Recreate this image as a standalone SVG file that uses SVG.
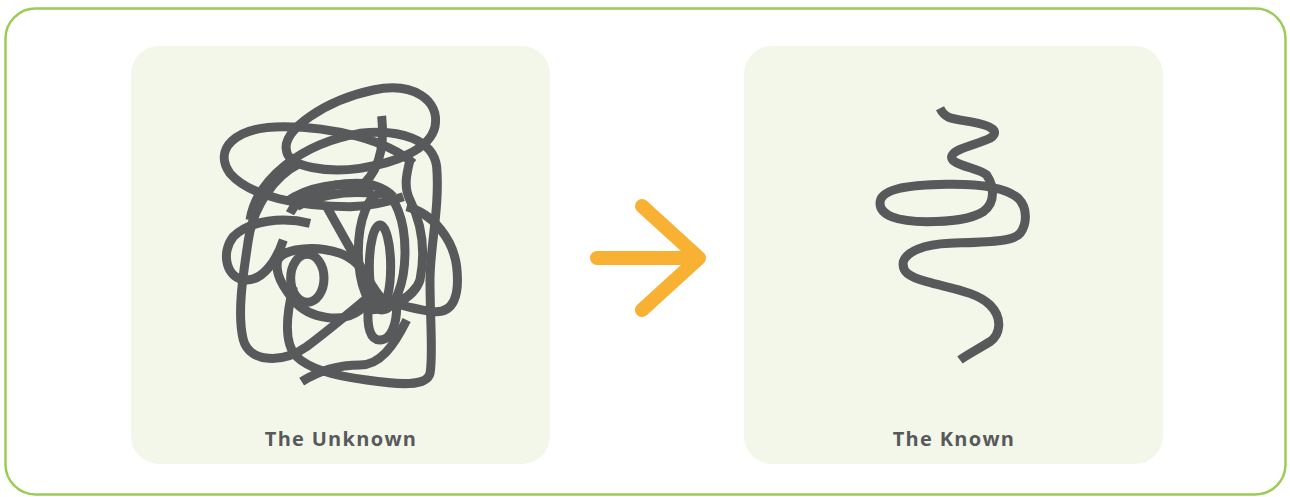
<svg xmlns="http://www.w3.org/2000/svg" width="1290" height="497" viewBox="0 0 1290 497">
<style>
.panel{fill:#f3f7ea}
.ink{fill:none;stroke:#58595b;stroke-width:27;stroke-linecap:butt;stroke-linejoin:round}
.lbl{font-family:"Open Sans","Liberation Sans",sans-serif;font-weight:700;font-size:20px;letter-spacing:1.3px;fill:#58595b;text-anchor:middle}
.arrow{fill:none;stroke:#f8b133;stroke-width:14;stroke-linecap:round;stroke-linejoin:round}
</style>
<rect x="0" y="0" width="1290" height="497" fill="#ffffff"/>
<rect id="frame" x="5.5" y="8.5" width="1280" height="486" rx="30" fill="#ffffff" stroke="#9ccc55" stroke-width="2.5"/>
<g id="unknown">
<rect class="panel" x="131" y="46" width="419" height="418" rx="28"/>
<g transform="translate(200,80) scale(0.33333)">
<path class="ink" d="M260 215 C240 150 380 60 520 30 C640 5 720 60 705 140 C690 210 580 250 480 265 C380 280 270 260 260 215 Z"/>
<path class="ink" d="M545 108 C555 200 540 280 470 330"/>
<path class="ink" d="M640 250 C560 180 400 140 250 140 C100 140 40 210 90 280 C150 350 300 380 450 380 C520 378 580 360 610 350"/>
<path class="ink" d="M150 420 C170 300 300 190 480 160 C600 145 700 180 710 260 C720 380 690 500 690 600 C690 720 700 830 690 880 C680 920 600 915 500 900 C420 890 330 870 290 830 C250 790 260 700 280 620"/>
<path class="ink" d="M300 250 C220 290 160 380 145 480 C130 580 110 700 130 780 C150 850 250 850 320 800 C400 740 470 680 530 630"/>
<path class="ink" d="M305 905 C360 870 420 855 480 855 C540 855 580 800 620 720"/>
<path class="ink" d="M620 380 C700 400 760 480 770 560 C780 650 760 700 700 695 C640 690 560 660 490 650"/>
<ellipse class="ink" cx="545" cy="515" rx="70" ry="175"/>
<ellipse class="ink" cx="540" cy="560" rx="32" ry="125"/>
<path class="ink" d="M505 680 C500 740 510 780 540 780 C575 780 590 730 590 680"/>
<path class="ink" d="M330 430 C250 410 150 420 100 470 C60 520 80 600 140 600 C190 600 230 540 250 480"/>
<ellipse class="ink" cx="322" cy="595" rx="50" ry="72"/>
<path class="ink" d="M230 560 C220 510 330 490 420 520 C500 550 530 640 480 690 C430 730 330 720 280 660 C240 610 210 560 250 500"/>
<path class="ink" d="M270 400 C300 340 380 310 470 310 C530 310 560 330 580 350"/>
<path class="ink" d="M260 365 C320 322 420 300 520 322"/>
<path class="ink" d="M290 380 C340 350 430 330 520 340"/>
<path class="ink" d="M380 380 C420 450 500 600 540 650 C580 680 620 660 650 620"/>
<path class="ink" d="M630 240 C620 280 610 320 630 360 C660 420 680 500 660 600 C640 660 560 690 500 690"/>
</g>
<text class="lbl" x="341" y="446">The Unknown</text>
</g>
<g id="connectors">
<path class="arrow" d="M597 258 H699 M642 206 L699 258 L642 310"/>
</g>
<g id="known">
<rect class="panel" x="744" y="46" width="419" height="418" rx="28"/>
<g transform="translate(850,95) scale(0.33333)">
<path class="ink" d="M270 40 C285 70 300 70 360 80 C430 92 450 110 420 130 C380 150 310 160 305 185 C300 210 390 220 410 240 C430 270 440 320 400 350 C360 375 300 380 230 380 C140 380 90 360 90 325 C90 285 160 270 290 268 C400 266 470 280 505 310 C535 340 530 390 510 415 C490 440 420 440 300 445 C220 448 170 470 160 500 C155 530 175 545 230 560 C300 580 380 590 420 630 C460 670 450 720 420 740 C380 765 350 780 330 795"/>
</g>
<text class="lbl" x="954" y="446">The Known</text>
</g>
</svg>
